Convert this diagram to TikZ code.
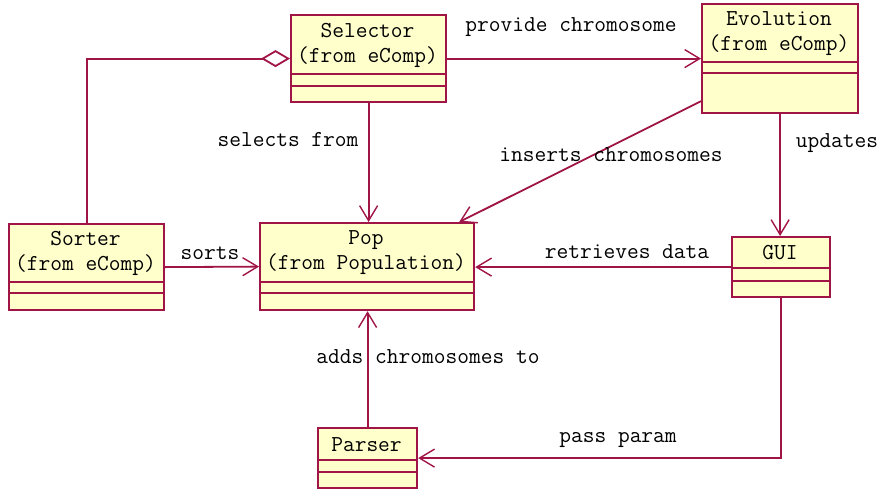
\documentclass[tikz,border=0pt]{standalone}
\usepackage{fontspec}
\usetikzlibrary{arrows.meta,calc}
\definecolor{umlred}{RGB}{160,20,70}
\definecolor{umlfill}{RGB}{255,255,204}

\begin{document}
\begin{tikzpicture}[x=1pt,y=-1pt,
  classbox/.style={draw=umlred,fill=umlfill,line width=2.2pt,inner sep=0pt,anchor=north west},
  conn/.style={umlred,line width=1.8pt,-{Straight Barb[length=15pt,width=18pt,line width=1.4pt]}},
  lbl/.style={inner sep=0pt}]
\ttfamily\fontsize{22.8}{25}\selectfont
\useasboundingbox (0,0) rectangle (882,490);
\foreach \n/\x/\y/\w/\a/\b/\c/\t in {
  sel/290/14/155/60/12/15/Selector\\(from eComp),
  evo/701/3/156/59/11/39/Evolution\\(from eComp),
  sort/8/223/155/59/11/16/Sorter\\(from eComp),
  pop/259/222/214/60/11/16/Pop\\(from Population),
  gui/731/236/98/32/13/15/GUI,
  par/317/427/99/33/12/15/Parser}
{
  \pgfmathsetmacro\h{\a+\b+\c}
  \node[classbox,minimum width=\w pt,minimum height=\h pt] (\n) at (\x,\y) {};
  \node[align=center,inner sep=0pt] (\n-name) at (\x+\w/2,\y+\a/2+1) {\t};
  \draw[umlred,line width=1.4pt] (\x,\y+\a) -- ++(\w,0) (\x,\y+\a+\b) -- ++(\w,0);
}

\draw[umlred,line width=1.8pt,{Diamond[open,fill=white,length=29pt,width=17pt]}-] (sel.west) -| (sort.north);
\draw[conn] (sel.east) -- (evo.west);
\draw[conn] (sel.south) -- (sel.south |- pop.north);
\draw[conn] ($(evo.south west)+(0,-13)$) -- ($(pop.north east)+(-16,0)$);
\draw[conn] (evo.south) -- (evo.south |- gui.north);
\draw[conn] (sort.east) -- (pop.west);
\draw[conn] (gui.west) -- (gui.west -| pop.east);
\draw[conn] (par.north) -- (par.north |- pop.south);
\draw[conn] (gui.south) |- (par.east);

\node[lbl] (provide) at (571,27) {provide chromosome};
\node[lbl] (selects) at (288,140) {selects from};
\node[lbl] (inserts) at (611,155) {inserts chromosomes};
\node[lbl] (updates) at (837,143) {updates};
\node[lbl] (sorts) at (210,253) {sorts};
\node[lbl] (retrieves) at (627,252) {retrieves data};
\node[lbl] (adds) at (428,357) {adds chromosomes to};
\node[lbl] (pass) at (618,440) {pass param};
\end{tikzpicture}
\end{document}
